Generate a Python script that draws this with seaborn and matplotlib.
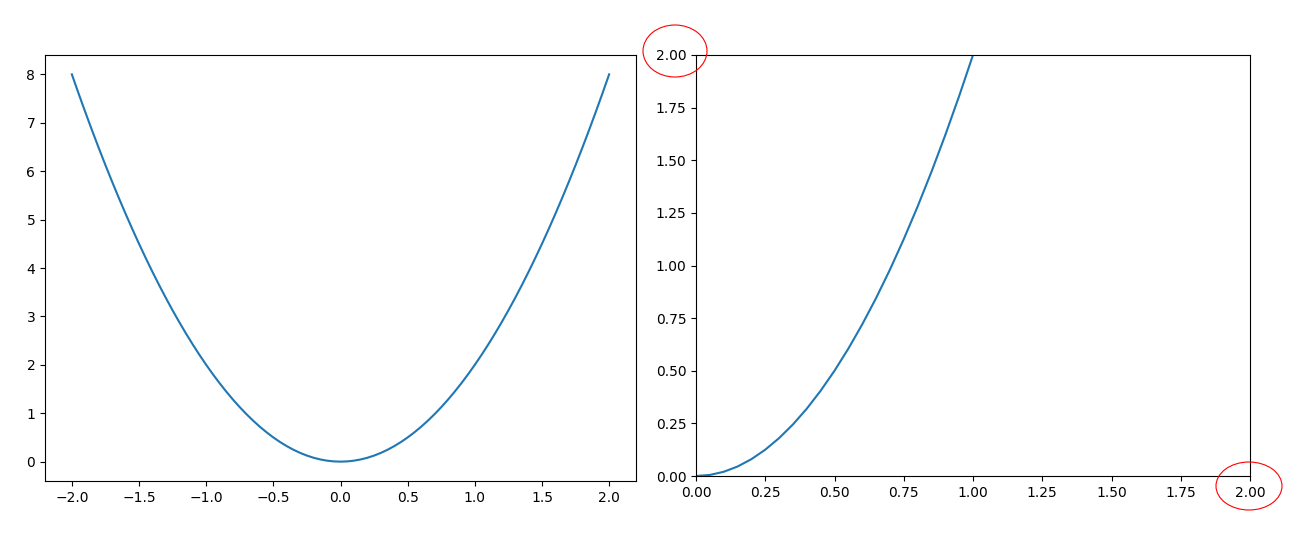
import matplotlib
matplotlib.use("Agg")
import matplotlib.pyplot as plt
from matplotlib.patches import Ellipse
import seaborn as sns
import pandas as pd

x_vals = [-2.00, -1.95, -1.90, -1.85, -1.80, -1.75, -1.70, -1.65, -1.60, -1.55,
          -1.50, -1.45, -1.40, -1.35, -1.30, -1.25, -1.20, -1.15, -1.10, -1.05,
          -1.00, -0.95, -0.90, -0.85, -0.80, -0.75, -0.70, -0.65, -0.60, -0.55,
          -0.50, -0.45, -0.40, -0.35, -0.30, -0.25, -0.20, -0.15, -0.10, -0.05,
          0.00,
          0.05, 0.10, 0.15, 0.20, 0.25, 0.30, 0.35, 0.40, 0.45, 0.50,
          0.55, 0.60, 0.65, 0.70, 0.75, 0.80, 0.85, 0.90, 0.95, 1.00,
          1.05, 1.10, 1.15, 1.20, 1.25, 1.30, 1.35, 1.40, 1.45, 1.50,
          1.55, 1.60, 1.65, 1.70, 1.75, 1.80, 1.85, 1.90, 1.95, 2.00]
y_vals = [8.000, 7.605, 7.220, 6.845, 6.480, 6.125, 5.780, 5.445, 5.120, 4.805,
          4.500, 4.205, 3.920, 3.645, 3.380, 3.125, 2.880, 2.645, 2.420, 2.205,
          2.000, 1.805, 1.620, 1.445, 1.280, 1.125, 0.980, 0.845, 0.720, 0.605,
          0.500, 0.405, 0.320, 0.245, 0.180, 0.125, 0.080, 0.045, 0.020, 0.005,
          0.000,
          0.005, 0.020, 0.045, 0.080, 0.125, 0.180, 0.245, 0.320, 0.405, 0.500,
          0.605, 0.720, 0.845, 0.980, 1.125, 1.280, 1.445, 1.620, 1.805, 2.000,
          2.205, 2.420, 2.645, 2.880, 3.125, 3.380, 3.645, 3.920, 4.205, 4.500,
          4.805, 5.120, 5.445, 5.780, 6.125, 6.480, 6.845, 7.220, 7.605, 8.000]
zoom_xlim = [0.0, 2.0]
zoom_ylim = [0.0, 2.0]

df = pd.DataFrame({"x": x_vals, "y": y_vals})

W, H = 1309, 539
fig = plt.figure(figsize=(W / 100, H / 100), dpi=100)
ax1 = fig.add_axes([45 / W, 1 - 481 / H, 591 / W, 426 / H])
ax2 = fig.add_axes([696 / W, 1 - 476 / H, 554 / W, 421 / H])

sns.lineplot(data=df, x="x", y="y", ax=ax1, color="#1f77b4", sort=False)
sns.lineplot(data=df, x="x", y="y", ax=ax2, color="#1f77b4", sort=False)
for ax in (ax1, ax2):
    ax.set_xlabel("")
    ax.set_ylabel("")
ax2.set_xlim(zoom_xlim)
ax2.set_ylim(zoom_ylim)

for cx, cy, w, h in [(675, 51, 64, 52), (1249, 486, 66, 48)]:
    e = Ellipse((cx / W, 1 - cy / H), w / W, h / H, transform=fig.transFigure,
                fill=False, edgecolor="red", linewidth=0.8)
    fig.add_artist(e)

fig.savefig("out.png", dpi=100)
